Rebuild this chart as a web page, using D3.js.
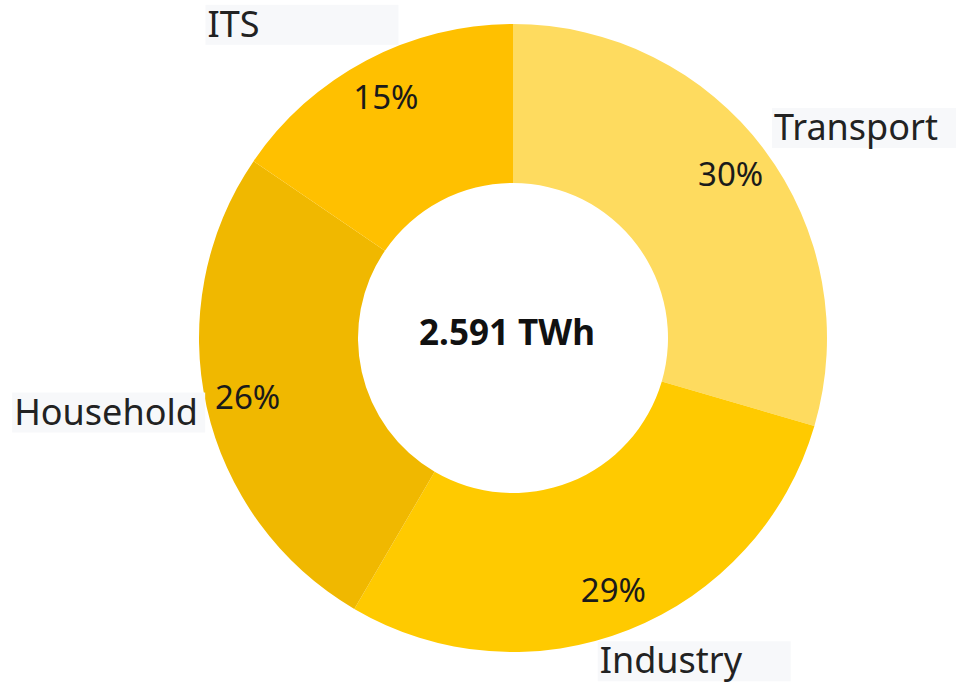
<!DOCTYPE html>
<html>
<head>
<meta charset="utf-8">
<script src="https://cdn.jsdelivr.net/npm/d3@7"></script>
<style>
  body { margin: 0; background: #fff; }
  svg { display: block; font-family: "Noto Sans", "Open Sans", sans-serif; }
</style>
</head>
<body>
<div id="chart"></div>
<script>
// energy use by sector, TWh (percent labels are rounded shares)
const categories = ["Transport", "Industry", "Household", "ITS"];
const values = [0.765, 0.749, 0.676, 0.401];
const colors = ["#fedb5f", "#ffca00", "#f0b800", "#ffc000"];
const totalLabel = "2.591 TWh";

// label nudges so boxes sit where the original layout put them
const nudges = [[-9, -9], [-39, 12], [19, 1], [42, -17]];

const width = 956, height = 682;
const cx = 513, cy = 338;
const outerR = 314, innerR = 155;

const svg = d3.select("#chart")
  .append("svg")
  .attr("width", width)
  .attr("height", height);

const total = d3.sum(values);
const data = categories.map((name, i) => ({ name, value: values[i], color: colors[i], i }));

const pie = d3.pie().sort(null).value(d => d.value);
const arcs = pie(data);

const arc = d3.arc().innerRadius(innerR).outerRadius(outerR);
const pctArc = d3.arc().innerRadius(272).outerRadius(272);
const nameArc = d3.arc().innerRadius(335).outerRadius(335);

const g = svg.append("g").attr("transform", `translate(${cx},${cy})`);

g.selectAll("path")
  .data(arcs)
  .join("path")
  .attr("d", arc)
  .attr("fill", d => d.data.color);

g.selectAll("text.pct")
  .data(arcs)
  .join("text")
  .attr("class", "pct")
  .attr("transform", d => `translate(${pctArc.centroid(d)})`)
  .attr("text-anchor", "middle")
  .attr("dy", "0.35em")
  .attr("font-size", 33)
  .attr("fill", "#1a1a1a")
  .text(d => Math.round(d.data.value / total * 100) + "%");

g.append("text")
  .attr("x", -6)
  .attr("y", -5)
  .attr("text-anchor", "middle")
  .attr("dy", "0.35em")
  .attr("font-size", 35)
  .attr("font-weight", "bold")
  .attr("fill", "#111")
  .text(totalLabel);

const boxW = 193, boxH = 40;
const labels = g.selectAll("g.lbl")
  .data(arcs)
  .join("g")
  .attr("class", "lbl")
  .attr("transform", d => {
    const [x, y] = nameArc.centroid(d);
    const mid = (d.startAngle + d.endAngle) / 2;
    const left = mid > Math.PI;
    const n = nudges[d.data.i];
    const bx = (left ? x - boxW : x) + n[0];
    const by = y - boxH / 2 + n[1];
    return `translate(${bx},${by})`;
  });

labels.append("rect")
  .attr("width", boxW)
  .attr("height", boxH)
  .attr("fill", "#f7f8fa");

labels.append("text")
  .attr("x", 2)
  .attr("y", 32)
  .attr("font-size", 36)
  .attr("fill", "#222")
  .text(d => d.data.name);
</script>
</body>
</html>
